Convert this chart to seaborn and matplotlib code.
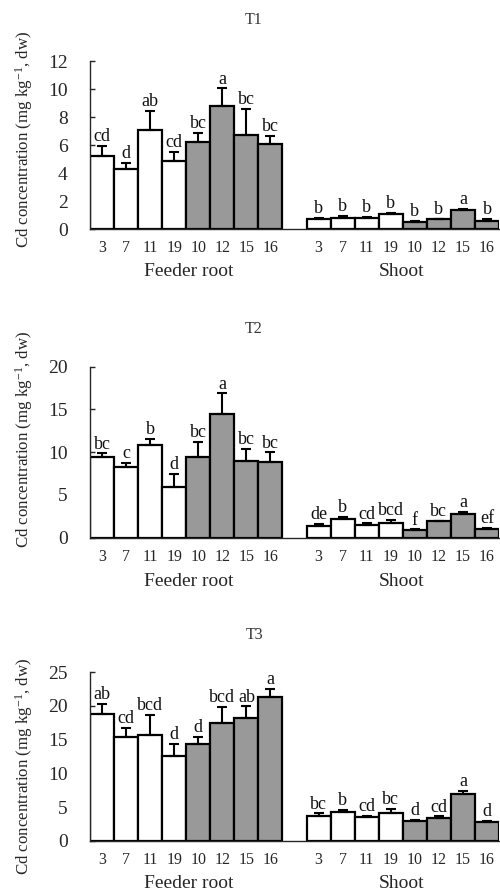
import matplotlib
matplotlib.use("Agg")
import matplotlib.pyplot as plt
import matplotlib.transforms as mtransforms
import seaborn as sns
import pandas as pd

# ---------------- data ----------------
genotypes = ["3", "7", "11", "19", "10", "12", "15", "16"]
geno_group = ["white", "white", "white", "white", "gray", "gray", "gray", "gray"]
panel_titles = ["T1", "T2", "T3"]
tissue_labels = ["Feeder root", "Shoot"]

t1_root = [5.2, 4.26, 7.07, 4.83, 6.24, 8.79, 6.69, 6.07]
t1_root_err = [0.75, 0.45, 1.35, 0.7, 0.65, 1.25, 1.9, 0.6]
t1_root_let = ["cd", "d", "ab", "cd", "bc", "a", "bc", "bc"]
t1_shoot = [0.71, 0.76, 0.76, 1.05, 0.5, 0.69, 1.36, 0.6]
t1_shoot_err = [0.1, 0.2, 0.1, 0.1, 0.07, 0.05, 0.1, 0.13]
t1_shoot_let = ["b", "b", "b", "b", "b", "b", "a", "b"]

t2_root = [9.47, 8.23, 10.84, 5.96, 9.4, 14.47, 8.97, 8.82]
t2_root_err = [0.4, 0.55, 0.7, 1.5, 1.8, 2.4, 1.4, 1.15]
t2_root_let = ["bc", "c", "b", "d", "bc", "a", "bc", "bc"]
t2_shoot = [1.40, 2.19, 1.44, 1.75, 0.89, 1.9, 2.73, 0.98]
t2_shoot_err = [0.2, 0.27, 0.25, 0.35, 0.1, 0.1, 0.27, 0.15]
t2_shoot_let = ["de", "b", "cd", "bcd", "f", "bc", "a", "ef"]

t3_root = [18.8, 15.43, 15.64, 12.57, 14.3, 17.42, 18.2, 21.37]
t3_root_err = [1.5, 1.3, 3.0, 1.8, 1.1, 2.45, 1.75, 1.15]
t3_root_let = ["ab", "cd", "bcd", "d", "d", "bcd", "ab", "a"]
t3_shoot = [3.71, 4.26, 3.47, 4.06, 2.87, 3.41, 6.88, 2.82]
t3_shoot_err = [0.35, 0.35, 0.2, 0.7, 0.25, 0.2, 0.55, 0.15]
t3_shoot_let = ["bc", "b", "cd", "bc", "d", "cd", "a", "d"]

y_max = [12, 20, 25]
y_step = [2, 5, 5]

panels = [
    (t1_root, t1_root_err, t1_root_let, t1_shoot, t1_shoot_err, t1_shoot_let),
    (t2_root, t2_root_err, t2_root_let, t2_shoot, t2_shoot_err, t2_shoot_let),
    (t3_root, t3_root_err, t3_root_let, t3_shoot, t3_shoot_err, t3_shoot_let),
]

# ---------------- style ----------------
sns.set_theme(style="ticks")
plt.rcParams["font.family"] = ["Liberation Serif", "DejaVu Serif"]
plt.rcParams["mathtext.fontset"] = "custom"
plt.rcParams["mathtext.rm"] = "Liberation Serif"
plt.rcParams["mathtext.it"] = "Liberation Serif:italic"
plt.rcParams["axes.linewidth"] = 1.0

palette = {"white": "white", "gray": "#999999"}

W, H = 500, 893
fig = plt.figure(figsize=(W / 100, H / 100), dpi=100)

# axes pixel geometry: (left, top of ymax, bottom of y=0)
ax_px = [(90, 61, 229), (90, 366.7, 537.7), (90, 672.3, 840.7)]
title_y = [20, 329, 635]
ylabel_ypos = [0.536, 0.577, 0.44]
right_px = 499

for p, (rv, re, rl, sv, se, sl) in enumerate(panels):
    left, top, bot = ax_px[p]
    ax = fig.add_axes([left / W, 1 - bot / H, (right_px - left) / W, (bot - top) / H])

    keys_root = ["R" + g for g in genotypes]
    keys_shoot = ["S" + g for g in genotypes]
    order = keys_root + ["gap"] + keys_shoot
    df = pd.DataFrame({
        "key": keys_root + keys_shoot,
        "value": list(rv) + list(sv),
        "err": list(re) + list(se),
        "letter": list(rl) + list(sl),
        "grp": geno_group + geno_group,
    })

    sns.barplot(data=df, x="key", y="value", hue="grp", order=order,
                hue_order=["white", "gray"], palette=palette, dodge=False,
                width=1.0, errorbar=None, edgecolor="black", linewidth=1.6,
                legend=False, ax=ax, zorder=2)

    lookup = df.set_index("key")
    for i, k in enumerate(order):
        if k not in lookup.index:
            continue
        val = lookup.loc[k, "value"]
        err = lookup.loc[k, "err"]
        ax.errorbar([i], [val], yerr=[[0], [err]], fmt="none", ecolor="black",
                    elinewidth=1.5, capsize=3.6, capthick=1.5, zorder=3)
        ax.annotate(lookup.loc[k, "letter"], (i, val + err), xytext=(0, 0.5),
                    textcoords="offset points", ha="center", va="bottom",
                    fontsize=13, color="#111111")

    ax.set_xlim(-0.5, len(order) - 0.5)
    ax.set_ylim(0, y_max[p])
    ax.set_yticks(list(range(0, y_max[p] + 1, y_step[p])))
    ax.set_xticks(range(len(order)))
    ax.set_xticklabels(genotypes + [""] + genotypes)
    ax.tick_params(axis="x", length=0, pad=8, labelsize=11.5)
    ax.tick_params(axis="y", direction="in", length=3.5, width=1, pad=16, labelsize=14)
    ax.set_xlabel("")
    ax.set_ylabel("Cd concentration (mg kg$^{-1}$, dw)", fontsize=12.2)
    ax.yaxis.set_label_coords(-0.134, ylabel_ypos[p])
    sns.despine(ax=ax)
    ax.spines["left"].set_linewidth(1.0)
    ax.spines["bottom"].set_linewidth(1.0)

    trans = mtransforms.blended_transform_factory(ax.transData, ax.transAxes)
    ax.text(3.6, -0.205, tissue_labels[0], transform=trans, ha="center", va="top", fontsize=14)
    ax.text(12.45, -0.205, tissue_labels[1], transform=trans, ha="center", va="top", fontsize=14)

    fig.text(254 / W, 1 - title_y[p] / H, panel_titles[p], ha="center", va="center",
             fontsize=11.5, color="#333333")

fig.savefig("out.png", dpi=100)
